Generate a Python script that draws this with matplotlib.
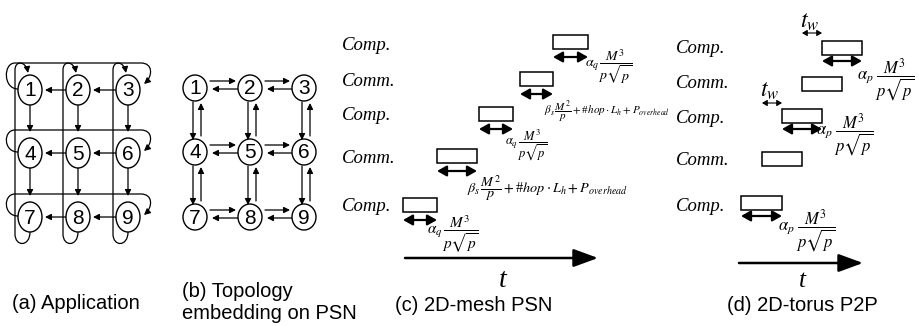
import matplotlib.pyplot as plt
from matplotlib.patches import Ellipse, Rectangle, FancyArrowPatch
from matplotlib.path import Path

plt.rcParams['mathtext.fontset'] = 'stix'

# ---- content ----
node_ids = [[1, 2, 3], [4, 5, 6], [7, 8, 9]]
captions = ['(a) Application', '(b) Topology\nembedding on PSN', '(c) 2D-mesh PSN', '(d) 2D-torus P2P']
phase_labels = ['Comp.', 'Comm.', 'Comp.', 'Comm.', 'Comp.']

comp_q = r'$\alpha_q\,\dfrac{M^3}{p\sqrt{p}}$'
comm_s = r'$\beta_s\,\dfrac{M^2}{p}+$#$hop\cdot L_h+P_{overhead}$'
comp_p = r'$\alpha_p\;\dfrac{M^3}{p\sqrt{p}}$'

# ---- layout (pixels of the 919x326 figure, y pointing down) ----
app_x = [30, 78, 128]
app_y = [90, 153, 217]
app_wrap = [63, 130, 194]
psn_x = [195, 250, 304]
psn_y = [88, 152, 217]

mesh_label_base = [50, 86, 120, 163, 211]
mesh_box_x = [553, 520, 479, 437, 403]
mesh_box_w = [35, 33, 34, 40, 34]
mesh_box_y = [42, 79, 114, 156, 205]
mesh_formula = [comp_q, comm_s, comp_q, comm_s, comp_q]
mesh_formula_xy = [(585, 67), (544, 112), (505, 145), (467, 188), (427, 234)]
mesh_formula_size = [10, 8, 9, 10.3, 11]

torus_label_base = [53, 88, 123, 165, 211]
torus_box_x = [822, 802, 782, 762, 741]
torus_box_w = [40, 40, 40, 40, 41]
torus_box_y = [48, 84, 116, 159, 203]
torus_formula = {0: comp_p, 2: comp_p, 4: comp_p}
torus_formula_xy = {0: (857, 80), 2: (816, 135), 4: (778, 231)}
torus_tw = {0: (800, 28, 33), 2: (760, 97, 103)}

W, H = 919, 326
fig = plt.figure(figsize=(W / 100, H / 100), dpi=100)
ax = fig.add_axes([0, 0, 1, 1])
ax.set_xlim(0, W)
ax.set_ylim(H, 0)
ax.axis('off')

sans = 'Liberation Sans'
serif = 'Liberation Serif'


def arrow(p0, p1, style='-|>', ms=6, lw=0.9, hl=0.6, hw=0.3, z=2):
    a = FancyArrowPatch(p0, p1, arrowstyle=f'{style},head_length={hl},head_width={hw}',
                        mutation_scale=ms, lw=lw, color='k', shrinkA=0, shrinkB=0, zorder=z)
    ax.add_patch(a)


def curve(verts, codes, lw=0.9):
    a = FancyArrowPatch(path=Path(verts, codes), arrowstyle='-|>,head_length=0.6,head_width=0.3',
                        mutation_scale=6, lw=lw, color='k', zorder=1)
    ax.add_patch(a)


def node(x, y, label, w, h):
    ax.add_patch(Ellipse((x, y), w, h, fc='white', ec='k', lw=1.0, zorder=3))
    ax.text(x, y + 1, str(label), ha='center', va='center', fontsize=15, family=sans, zorder=4)


M, C, L = Path.MOVETO, Path.CURVE4, Path.LINETO

# ---- (a) application graph ----
for r, y in enumerate(app_y):
    for c, x in enumerate(app_x):
        node(x, y, node_ids[r][c], 24, 30)
    for c in range(2):
        arrow((app_x[c + 1] - 12, y), (app_x[c] + 15, y))
    # row wrap-around 1 -> 3
    x1, x3, yt = app_x[0], app_x[2], app_wrap[r]
    curve([(x1 - 12, y - 1), (x1 - 27, y - 1), (x1 - 27, yt), (x1 - 15, yt),
           (x3 + 13, yt), (x3 + 25, yt), (x3 + 25, yt + 13), (x3 + 16, yt + 21)],
          [M, C, C, C, L, C, C, C])
for c, x in enumerate(app_x):
    for r in range(2):
        arrow((x, app_y[r] + 15), (x, app_wrap[r + 1] + 2))
    # column wrap-around 7 -> 1
    xl = x - 15
    curve([(x, app_y[2] + 15), (x, app_y[2] + 30), (xl, app_y[2] + 30), (xl, app_y[2] + 17),
           (xl, app_y[0] - 20), (xl, app_y[0] - 30), (x - 4, app_y[0] - 29), (x - 2, app_y[0] - 17)],
          [M, C, C, C, L, C, C, C])

# ---- (b) embedding on PSN ----
for r, y in enumerate(psn_y):
    for c, x in enumerate(psn_x):
        node(x, y, node_ids[r][c], 24, 26)
    for c in range(2):
        arrow((psn_x[c] + 15, y - 7), (psn_x[c + 1] - 14, y - 7))
        arrow((psn_x[c + 1] - 11, y + 1), (psn_x[c] + 17, y + 1))
for c, x in enumerate(psn_x):
    for r in range(2):
        arrow((x - 2, psn_y[r] + 14), (x - 2, psn_y[r + 1] - 12))
        arrow((x + 6, psn_y[r + 1] - 16), (x + 6, psn_y[r] + 15))


# ---- (c) and (d) timelines ----
def timeline(lab_x, label_base, box_x, box_w, box_y, arrow_dy, arrow_rows, ax0, ax1, ay, tx, ts):
    for lab, yb in zip(phase_labels, label_base):
        ax.text(lab_x, yb, lab, ha='left', va='baseline', fontsize=13.5, family=serif, style='italic')
    for i, (x, w, y) in enumerate(zip(box_x, box_w, box_y)):
        ax.add_patch(Rectangle((x, y - 7), w, 14, fc='white', ec='k', lw=1.1))
        if i in arrow_rows:
            arrow((x, y + arrow_dy), (x + w, y + arrow_dy), style='<|-|>', ms=7, lw=1.6, hl=0.8, hw=0.45)
    arrow((ax0, ay), (ax1, ay), ms=10, lw=1.8, hl=1.5, hw=0.55)
    ax.text(tx, 287, 't', ha='center', va='baseline', fontsize=ts, family=serif, style='italic')


timeline(342, mesh_label_base, mesh_box_x, mesh_box_w, mesh_box_y, 15, [0, 1, 2, 3, 4], 405, 598, 258, 503, 20)
for f, (x, y), s in zip(mesh_formula, mesh_formula_xy, mesh_formula_size):
    ax.text(x, y, f, ha='left', va='center', fontsize=s, family=serif)

timeline(676, torus_label_base, torus_box_x, torus_box_w, torus_box_y, 13, [0, 2, 4], 739, 863, 263, 802, 18)
for i, f in torus_formula.items():
    x, y = torus_formula_xy[i]
    ax.text(x, y, f, ha='left', va='center', fontsize=12)
for i, (x, yb, ya) in torus_tw.items():
    ax.text(x, yb, r'$t_w$', ha='left', va='baseline', fontsize=17)
    arrow((x + 2, ya), (torus_box_x[i], ya), style='<|-|>', ms=6, lw=0.8, hl=0.5, hw=0.3)

# ---- captions ----
cap_pos = [(12, 309), (182, 297), (395, 311), (727, 311)]
for cap, (x, y) in zip(captions, cap_pos):
    for k, line in enumerate(cap.split('\n')):
        ax.text(x, y + 22 * k, line, ha='left', va='baseline', fontsize=14.5, family=sans)

fig.savefig('out.png', dpi=100)
